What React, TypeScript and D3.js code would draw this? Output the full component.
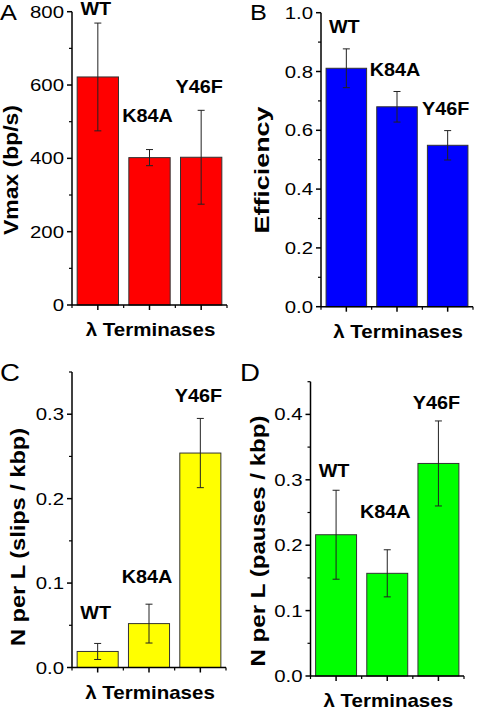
import React from 'react';
import * as d3 from 'd3';

const categories = ['WT', 'K84A', 'Y46F'];

const vmaxValues = [622, 402, 403];
const vmaxErrors = [147, 22, 128];
const vmaxLabelAt = [791, 499, 578];

const efficiencyValues = [0.811, 0.68, 0.549];
const efficiencyErrors = [0.066, 0.052, 0.05];
const efficiencyLabelAt = [0.931, 0.785, 0.652];

const slipValues = [0.019, 0.052, 0.254];
const slipErrors = [0.0095, 0.023, 0.041];
const slipLabelAt = [0.057, 0.1, 0.314];

const pauseValues = [0.216, 0.157, 0.325];
const pauseErrors = [0.068, 0.036, 0.065];
const pauseLabelAt = [0.304, 0.242, 0.409];

const xTitle = 'λ Terminases';
const FONT = "'Liberation Sans', Arial, Helvetica, sans-serif";

type PanelCfg = {
  letter: string;
  letterX: number;
  letterY: number;
  letterSize: number;
  values: number[];
  errors: number[];
  labelAt: number[];
  max: number;
  major: number;
  fmt: string;
  color: string;
  x0: number;
  x1: number;
  yTop: number;
  yBottom: number;
  yTitle: string;
  yTitleX: number;
  yTitleCy: number;
  yTitleLen: number;
};

const panels: PanelCfg[] = [
  {
    letter: 'A', letterX: 0, letterY: 20, letterSize: 22,
    values: vmaxValues, errors: vmaxErrors, labelAt: vmaxLabelAt,
    max: 800, major: 200, fmt: 'd', color: '#ff0000',
    x0: 72, x1: 227, yTop: 11.7, yBottom: 305,
    yTitle: 'Vmax (bp/s)', yTitleX: 17.5, yTitleCy: 170, yTitleLen: 130,
  },
  {
    letter: 'B', letterX: 250, letterY: 20, letterSize: 22,
    values: efficiencyValues, errors: efficiencyErrors, labelAt: efficiencyLabelAt,
    max: 1.0, major: 0.2, fmt: '.1f', color: '#0000ff',
    x0: 321, x1: 473, yTop: 12.7, yBottom: 306.7,
    yTitle: 'Efficiency', yTitleX: 268.5, yTitleCy: 170, yTitleLen: 127,
  },
  {
    letter: 'C', letterX: 0, letterY: 381, letterSize: 24,
    values: slipValues, errors: slipErrors, labelAt: slipLabelAt,
    max: 0.35, major: 0.1, fmt: '.1f', color: '#ffff00',
    x0: 72, x1: 226, yTop: 372, yBottom: 667.5,
    yTitle: 'N per L (slips / kbp)', yTitleX: 24.5, yTitleCy: 537, yTitleLen: 218,
  },
  {
    letter: 'D', letterX: 240, letterY: 381, letterSize: 24,
    values: pauseValues, errors: pauseErrors, labelAt: pauseLabelAt,
    max: 0.45, major: 0.1, fmt: '.1f', color: '#00ff00',
    x0: 310.5, x1: 464, yTop: 381.7, yBottom: 676,
    yTitle: 'N per L (pauses / kbp)', yTitleX: 264.5, yTitleCy: 541, yTitleLen: 251,
  },
];

function SText(props: {
  x: number; y: number; sx?: number; size: number; bold?: boolean;
  anchor?: string; children: React.ReactNode;
}) {
  const { x, y, sx = 1, size, bold, anchor = 'start', children } = props;
  return (
    <text
      transform={`translate(${x},${y}) scale(${sx},1)`}
      fontFamily={FONT}
      fontSize={size}
      fontWeight={bold ? 'bold' : 'normal'}
      textAnchor={anchor}
      fill="#000"
    >
      {children}
    </text>
  );
}

function BarPanel({ p }: { p: PanelCfg }) {
  const x = d3.scaleBand<string>().domain(categories).range([p.x0, p.x1]).paddingInner(0.2).paddingOuter(0.1);
  const y = d3.scaleLinear().domain([0, p.max]).range([p.yBottom, p.yTop]);
  const step = x.step();
  const bw = x.bandwidth();
  const majorTicks = d3.range(0, p.max + 1e-9, p.major);
  const minorTicks = d3.range(p.major / 2, p.max + 1e-9, p.major);
  const fmt = d3.format(p.fmt);
  const centers = categories.map((c) => (x(c) as number) + bw / 2);
  const bounds = [centers[0] - step / 2, ...centers.map((c) => c + step / 2)];

  return (
    <g>
      <SText x={p.letterX} y={p.letterY} size={p.letterSize} sx={1.15}>{p.letter}</SText>
      {categories.map((c, i) => (
        <rect
          key={c}
          x={x(c)}
          y={y(p.values[i])}
          width={bw}
          height={y(0) - y(p.values[i])}
          fill={p.color}
          stroke="#333"
          strokeWidth={1}
        />
      ))}
      {categories.map((c, i) => {
        const cx = centers[i];
        const yt = y(p.values[i] + p.errors[i]);
        const yb = y(p.values[i] - p.errors[i]);
        return (
          <g key={c} stroke="#222" strokeWidth={1}>
            <line x1={cx} x2={cx} y1={yt} y2={yb} />
            <line x1={cx - 3.5} x2={cx + 3.5} y1={yt} y2={yt} />
            <line x1={cx - 3.5} x2={cx + 3.5} y1={yb} y2={yb} />
          </g>
        );
      })}
      {categories.map((c, i) => (
        <SText key={c} x={centers[i] - 2} y={y(p.labelAt[i])} size={18} bold sx={1.1} anchor="middle">{c}</SText>
      ))}
      <line x1={p.x0} x2={p.x0} y1={y(p.max)} y2={y(0)} stroke="#000" strokeWidth={1.5} />
      {majorTicks.map((t) => (
        <g key={'M' + t}>
          <line x1={p.x0 - 5} x2={p.x0} y1={y(t)} y2={y(t)} stroke="#000" strokeWidth={1.5} />
          <SText x={p.x0 - 8} y={y(t) + 6} size={17} sx={1.2} anchor="end">{fmt(t)}</SText>
        </g>
      ))}
      {minorTicks.map((t) => (
        <line key={'m' + t} x1={p.x0 - 3} x2={p.x0} y1={y(t)} y2={y(t)} stroke="#000" strokeWidth={1.2} />
      ))}
      <line x1={p.x0} x2={p.x1} y1={y(0)} y2={y(0)} stroke="#000" strokeWidth={1.5} />
      {centers.map((c, i) => (
        <line key={'xc' + i} x1={c} x2={c} y1={y(0)} y2={y(0) + 5} stroke="#000" strokeWidth={1.5} />
      ))}
      {bounds.map((b, i) => (
        <line key={'xb' + i} x1={b} x2={b} y1={y(0)} y2={y(0) + 3} stroke="#000" strokeWidth={1.2} />
      ))}
      <SText x={(p.x0 + p.x1) / 2 + 1} y={y(0) + 31} size={18} bold sx={1.14} anchor="middle">{xTitle}</SText>
      <text
        transform={`translate(${p.yTitleX},${p.yTitleCy}) rotate(-90)`}
        fontFamily={FONT}
        fontSize={20.5}
        fontWeight="bold"
        textAnchor="middle"
        textLength={p.yTitleLen}
        lengthAdjust="spacingAndGlyphs"
        fill="#000"
      >
        {p.yTitle}
      </text>
    </g>
  );
}

export default function App() {
  return (
    <svg
      width={480}
      height={712}
      viewBox="0 0 480 712"
      style={{ position: 'absolute', left: 0, top: 0, background: '#fff' }}
    >
      <rect x={0} y={0} width={480} height={712} fill="#fff" />
      {panels.map((p) => (
        <BarPanel key={p.letter} p={p} />
      ))}
    </svg>
  );
}
